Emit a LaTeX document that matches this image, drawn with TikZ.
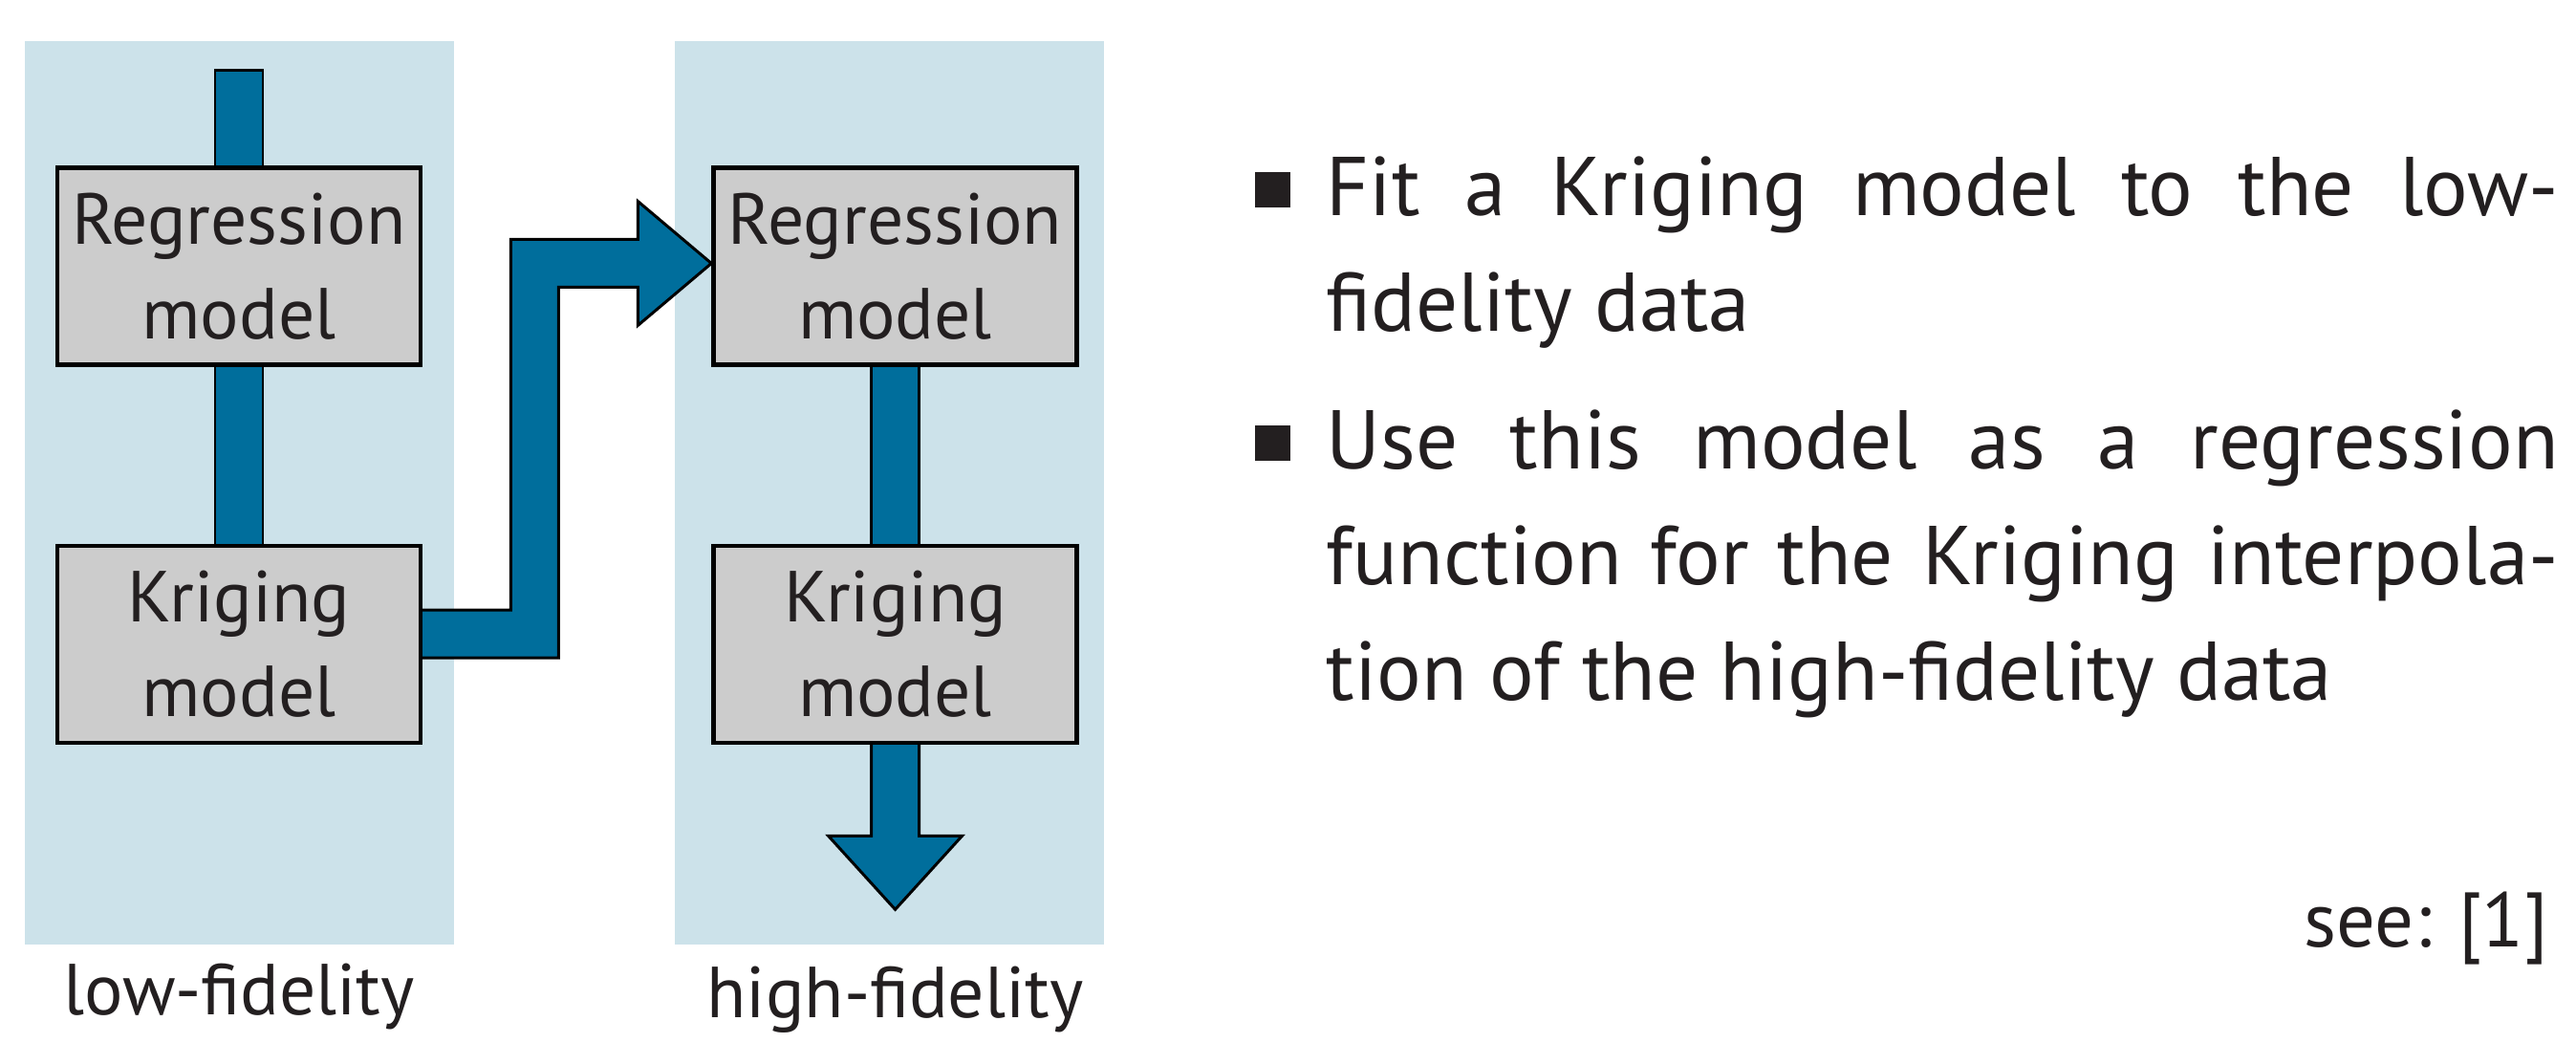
\documentclass[tikz,border=0pt]{standalone}
\usepackage{fontspec}
\setmainfont{PT Sans}
\usepackage{xcolor}
\usetikzlibrary{calc, positioning, backgrounds}
\definecolor{panelblue}{RGB}{204,226,234}
\definecolor{flowblue}{RGB}{0,110,156}
\definecolor{boxgray}{RGB}{204,204,204}
\definecolor{inkdark}{RGB}{35,31,32}
\def\sw{2.5mm}

\begin{document}
\begin{tikzpicture}[
        boxnode/.style={rectangle, draw=black, line width=1.3pt, fill=boxgray, minimum width=3.8cm, minimum height=2.06cm, align=center, inner sep=0pt, font=\fontsize{21.5}{28.2}\selectfont},
        flow/.style={draw=black, line width=0.85pt, fill=flowblue, line join=miter},
        panel/.style={fill=panelblue},
        itemtext/.style={text width=12.89cm, align=justify, inner sep=0pt, anchor=base west, font=\fontsize{24.8}{34.4}\selectfont},
        bulletsq/.style={fill=inkdark, minimum size=0.37cm, inner sep=0pt},
        node distance=1.85cm]
        \tikzstyle{every node}=[text=inkdark]
        \useasboundingbox (0,0) rectangle (26.95,10.91);
            % model boxes
            \node[boxnode] (reglow) at (2.50,8.125) {Regression\\model};
            \node[boxnode, below=of reglow] (krilow) {Kriging\\model};
            \node[boxnode, right=3.02cm of reglow] (reghigh) {Regression\\model};
            \node[boxnode, below=of reghigh] (krihigh) {Kriging\\model};

            \node[font=\fontsize{21.5}{28.2}\selectfont, anchor=base] (lowlab) at (2.50,0.29) {low-fidelity};
            \node[font=\fontsize{21.5}{28.2}\selectfont, anchor=base] (highlab) at (9.365,0.26) {high-fidelity};

            % bullet list
            \node[itemtext] (fit) at (13.87,8.65) {Fit a Kriging model to the low-\linebreak fidelity data};
            \node[itemtext] (use) at (13.87,6.00) {Use this model as a regression function for the Kriging interpola-\linebreak tion of the high-fidelity data};
            \node[bulletsq] (fitbul) at ($(fit.base west)+(-0.56,0.27)$) {};
            \node[bulletsq] (usebul) at ($(use.base west)+(-0.56,0.27)$) {};

            \node[font=\fontsize{23}{28}\selectfont, anchor=base east] (see) at (26.78,1.00) {see: [1]};

            \begin{scope}[on background layer]
              \fill[panel] (0.26,1.03) rectangle (4.75,10.48);
              \fill[panel] (7.06,1.03) rectangle (11.55,10.48);

              \coordinate (in) at ([yshift=1cm]reglow.north);
              \draw[flow] ([xshift=-\sw]in) rectangle ([xshift=\sw, yshift=-1mm]reglow.north);
              \draw[flow] ([xshift=-\sw, yshift=1mm]reglow.south) rectangle ([xshift=\sw, yshift=-1mm]krilow.north);
              \draw[flow] ([xshift=-\sw, yshift=1mm]reghigh.south) rectangle ([xshift=\sw, yshift=-1mm]krihigh.north);

              % low -> high
              \coordinate (e1) at ([xshift=-1mm, yshift=1.1mm]krilow.east);
              \coordinate (e2) at ([xshift=12.7mm]e1);
              \coordinate (e3) at ([yshift=.3mm]reghigh.west);
              \draw[flow] ($(e1)+(0,\sw)$) -- ($(e2)+(-\sw,\sw)$) -- ($(e2|-e3)+(-\sw,\sw)$)
                -- ($(e3)+(-7.7mm,\sw)$) -- ($(e3)+(-7.7mm,6.5mm)$) -- (e3)
                -- ($(e3)+(-7.7mm,-6.5mm)$) -- ($(e3)+(-7.7mm,-\sw)$) -- ($(e2|-e3)+(\sw,-\sw)$)
                -- ($(e2)+(\sw,-\sw)$) -- ($(e1)+(0,-\sw)$) -- cycle;

              % output
              \coordinate (d1) at ([yshift=1mm]krihigh.south);
              \coordinate (d2) at ([yshift=-17.2mm]krihigh.south);
              \draw[flow] ($(d1)+(-\sw,0)$) -- ($(d2)+(-\sw,7.7mm)$) -- ($(d2)+(-7mm,7.7mm)$) -- (d2)
                -- ($(d2)+(7mm,7.7mm)$) -- ($(d2)+(\sw,7.7mm)$) -- ($(d1)+(\sw,0)$) -- cycle;
            \end{scope}
        \end{tikzpicture}
\end{document}
